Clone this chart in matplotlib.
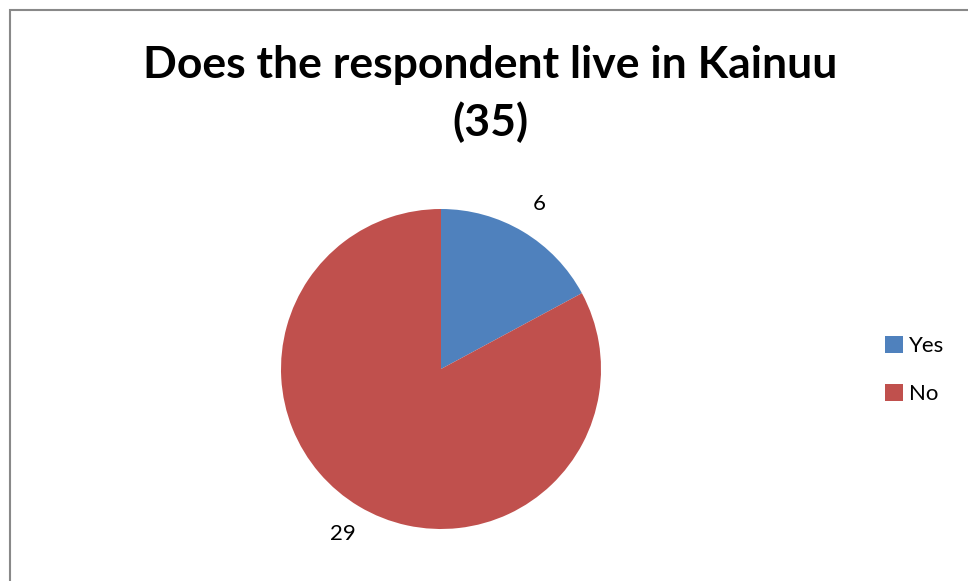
import matplotlib
matplotlib.use("Agg")
import matplotlib.pyplot as plt
from matplotlib.patches import Rectangle

categories = ["Yes", "No"]
values = [6, 29]
colors = ["#4F81BD", "#C0504D"]
title = "Does the respondent live in Kainuu\n(35)"

plt.rcParams['font.family'] = ['Lato', 'DejaVu Sans']

W, H = 968, 581
fig = plt.figure(figsize=(W/100, H/100), dpi=100)

# chart border (continues beyond right/bottom edges)
fig.patches.append(Rectangle((10/W, -0.05), 1.2, 1 - 10/H + 0.05, transform=fig.transFigure,
                             fill=False, edgecolor="#898989", linewidth=1.5))

r = 160
cx, cy = 441, 369
ax = fig.add_axes([(cx - r)/W, 1 - (cy + r)/H, 2*r/W, 2*r/H])
wedges, texts = ax.pie(values, colors=colors, startangle=90, counterclock=False,
                       labels=[str(v) for v in values], labeldistance=1.2,
                       textprops=dict(fontsize=16, color="black"))
for t in texts:
    t.set_ha("center")
    t.set_va("center")
    t.set_clip_on(False)
ax.set_xlim(-1, 1)
ax.set_ylim(-1, 1)
ax.set_aspect("equal")
ax.axis("off")

fig.text(490/W, 1 - 94/H, title, ha="center", va="center", fontsize=32,
         fontweight="bold", linespacing=1.45)

handles = [Rectangle((0, 0), 1, 1, facecolor=c) for c in colors]
fig.legend(handles, categories, loc="center left", bbox_to_anchor=(865/W, 1 - 370/H),
           frameon=False, fontsize=16, handlelength=0.8, handleheight=0.8,
           handletextpad=0.3, labelspacing=1.25)

fig.savefig("out.png", dpi=100)
